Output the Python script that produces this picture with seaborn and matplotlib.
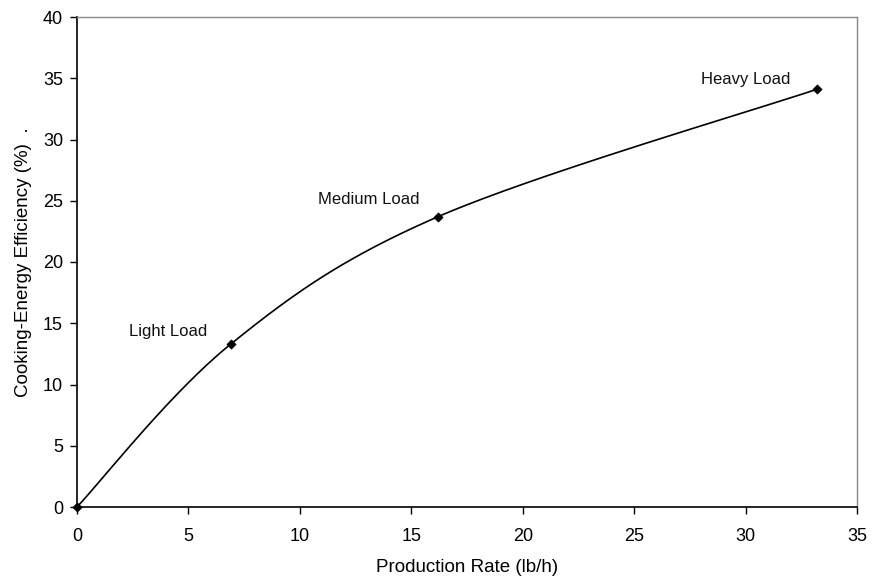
import numpy as np
import pandas as pd
import matplotlib
matplotlib.use("Agg")
import matplotlib.pyplot as plt
import seaborn as sns

# Data
load_names = ["", "Light Load", "Medium Load", "Heavy Load"]
production_rate = [0.0, 6.9, 16.2, 33.2]
efficiency = [0.0, 13.3, 23.7, 34.1]
label_x = [None, 4.1, 13.1, 30.0]
label_y = [None, 14.3, 25.1, 34.9]
x_ticks = [0, 5, 10, 15, 20, 25, 30, 35]
y_ticks = [0, 5, 10, 15, 20, 25, 30, 35, 40]

sns.set_theme(style="white")
plt.rcParams['font.family'] = ['Liberation Sans', 'DejaVu Sans']

# Excel-style smoothed line (cubic Bezier through points)
P = np.column_stack([production_rate, efficiency])
n = len(P)
curve = []
for i in range(n - 1):
    p0 = P[i - 1] if i > 0 else P[i]
    p1 = P[i]
    p2 = P[i + 1]
    p3 = P[i + 2] if i + 2 < n else P[i + 1]
    c1 = p1 + (p2 - p0) / 6.0
    c2 = p2 - (p3 - p1) / 6.0
    t = np.linspace(0, 1, 60)[:, None]
    seg = (1 - t) ** 3 * p1 + 3 * (1 - t) ** 2 * t * c1 + 3 * (1 - t) * t ** 2 * c2 + t ** 3 * p2
    curve.append(seg if i == 0 else seg[1:])
curve = np.vstack(curve)
curve_df = pd.DataFrame({"x": curve[:, 0], "y": curve[:, 1]})
pts_df = pd.DataFrame({"x": production_rate, "y": efficiency})

fig = plt.figure(figsize=(8.76, 5.78), dpi=100)
ax = fig.add_axes([77 / 876, (578 - 507) / 578, 780 / 876, 490 / 578])

sns.lineplot(data=curve_df, x="x", y="y", sort=False, estimator=None, color="black", linewidth=1.2, ax=ax)
sns.scatterplot(data=pts_df, x="x", y="y", marker="D", s=22, color="black", edgecolor="black", linewidth=0.5, ax=ax, zorder=5, clip_on=False)

for name, lx, ly in zip(load_names, label_x, label_y):
    if name:
        ax.text(lx, ly, name, ha="center", va="center", fontsize=12, color="#111111")

ax.set_xlim(0, 35)
ax.set_ylim(0, 40)
ax.set_xticks(x_ticks)
ax.set_yticks(y_ticks)
ax.set_xlabel("Production Rate (lb/h)", fontsize=13.5, color="black", labelpad=10)
ax.set_ylabel("Cooking-Energy Efficiency (%)  .", fontsize=13.5, color="black", labelpad=8)
ax.tick_params(axis="both", direction="out", length=5, width=1, color="black", labelsize=13, labelcolor="black", pad=5)
ax.tick_params(axis="x", bottom=True, pad=10)
ax.tick_params(axis="y", left=True)
for s in ["left", "bottom"]:
    ax.spines[s].set_color("black")
    ax.spines[s].set_linewidth(1.2)
for s in ["top", "right"]:
    ax.spines[s].set_color("#888888")
    ax.spines[s].set_linewidth(1.0)
ax.grid(False)
ax.set_facecolor("white")

fig.savefig("out.png", dpi=100)
